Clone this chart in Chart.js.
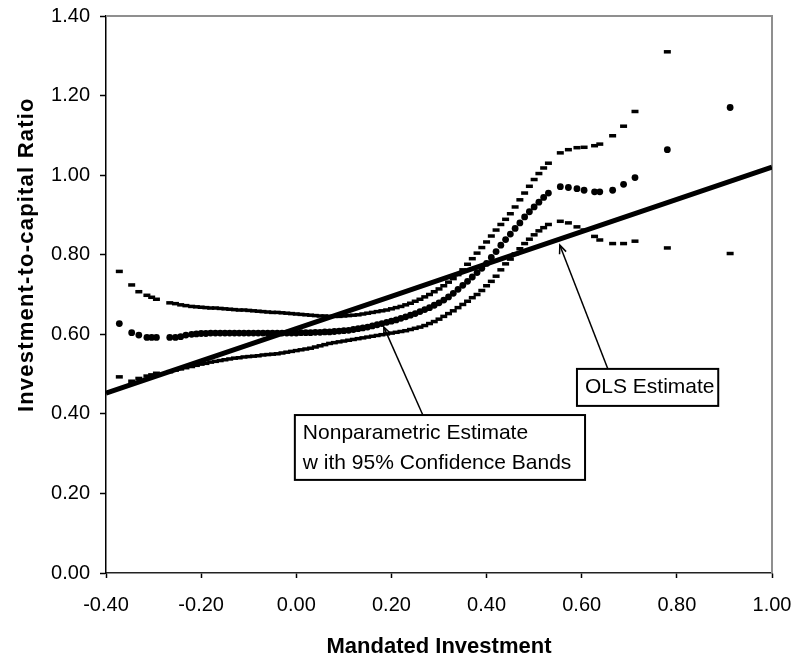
<!DOCTYPE html>
<html><head><meta charset="utf-8">
<script src="https://cdn.jsdelivr.net/npm/chart.js@4.4.1/dist/chart.umd.min.js"></script>
<style>html,body{margin:0;padding:0;background:#fff}#wrap{width:798px;height:660px}</style>
</head><body><div id="wrap"><canvas id="c" width="798" height="660"></canvas></div>
<script>
// ---- data ----
const xSample = [-0.372,-0.346,-0.331,-0.314,-0.304,-0.294,-0.266,-0.254,-0.243,-0.232,-0.220,
 -0.21,-0.20,-0.19,-0.18,-0.17,-0.16,-0.15,-0.14,-0.13,-0.12,-0.11,-0.10,-0.09,-0.08,-0.07,-0.06,-0.05,-0.04,-0.03,-0.02,-0.01,
 0.00,0.01,0.02,0.03,0.04,0.05,0.06,0.07,0.08,0.09,0.10,0.11,0.12,0.13,0.14,0.15,0.16,0.17,0.18,0.19,
 0.20,0.21,0.22,0.23,0.24,0.25,0.26,0.27,0.28,0.29,0.30,0.31,0.32,0.33,0.34,0.35,0.36,0.37,0.38,0.39,
 0.40,0.41,0.42,0.43,0.44,0.45,0.46,0.47,0.48,0.49,0.50,0.51,0.52,0.53,
 0.555,0.572,0.590,0.605,0.627,0.638,0.665,0.688,0.712,0.780,0.912];
const upperBand = [0.758,0.724,0.707,0.698,0.693,0.688,0.679,0.677,0.674,0.672,0.670,
 0.669,0.668,0.667,0.666,0.666,0.665,0.664,0.663,0.662,0.661,0.661,0.660,0.659,0.658,0.657,0.656,0.655,0.655,0.654,0.653,0.652,
 0.651,0.650,0.649,0.648,0.647,0.646,0.646,0.645,0.645,0.645,0.646,0.647,0.648,0.649,0.651,0.653,0.655,0.657,0.659,0.661,
 0.664,0.667,0.670,0.674,0.678,0.683,0.688,0.694,0.700,0.707,0.714,0.722,0.731,0.740,0.750,0.762,0.776,0.790,0.804,0.818,
 0.832,0.847,0.862,0.876,0.889,0.903,0.920,0.938,0.955,0.972,0.989,1.004,1.018,1.030,
 1.056,1.064,1.069,1.070,1.074,1.078,1.099,1.123,1.160,1.310,null];
const estimate = [0.627,0.604,0.598,0.592,0.592,0.592,0.592,0.592,0.594,0.598,0.600,
 0.601,0.602,0.602,0.603,0.603,0.603,0.603,0.603,0.603,0.603,0.603,0.603,0.603,0.603,0.603,0.603,0.603,0.603,0.603,0.603,0.603,
 0.603,0.604,0.604,0.604,0.605,0.605,0.606,0.606,0.607,0.608,0.609,0.610,0.612,0.614,0.616,0.618,0.621,0.624,0.627,0.630,
 0.633,0.636,0.640,0.644,0.648,0.652,0.657,0.662,0.667,0.673,0.679,0.686,0.694,0.703,0.713,0.723,0.733,0.744,0.755,0.766,
 0.778,0.793,0.808,0.824,0.838,0.852,0.866,0.880,0.895,0.908,0.920,0.932,0.944,0.955,
 0.971,0.969,0.966,0.962,0.958,0.958,0.962,0.977,0.994,1.064,1.170];
const lowerBand = [0.493,0.482,0.489,0.495,0.498,0.502,0.506,0.510,0.513,0.516,0.519,
 0.522,0.525,0.527,0.530,0.532,0.534,0.536,0.538,0.540,0.541,0.543,0.544,0.545,0.546,0.548,0.549,0.550,0.551,0.553,0.555,0.557,
 0.559,0.561,0.563,0.565,0.568,0.571,0.574,0.577,0.579,0.581,0.583,0.585,0.587,0.589,0.591,0.593,0.595,0.597,0.599,0.601,
 0.603,0.605,0.607,0.609,0.612,0.615,0.618,0.622,0.627,0.632,0.638,0.645,0.652,0.659,0.667,0.675,0.683,0.692,0.700,0.710,
 0.722,0.733,0.746,0.762,0.777,0.789,0.802,0.815,0.828,0.839,0.850,0.860,0.868,0.876,
 0.884,0.880,0.870,0.862,0.846,0.837,0.828,0.828,0.834,0.817,0.803];
const olsX = [-0.40,-0.20,0.00,0.20,0.40,0.60,0.80,1.00];
const olsY = [0.452,0.533,0.614,0.695,0.777,0.858,0.939,1.020];
const xTickValues = [-0.4,-0.2,0,0.2,0.4,0.6,0.8,1.0];
const xTickLabels = ['-0.40','-0.20','0.00','0.20','0.40','0.60','0.80','1.00'];
const yTickValues = [0,0.2,0.4,0.6,0.8,1.0,1.2,1.4];
const yTickLabels = ['0.00','0.20','0.40','0.60','0.80','1.00','1.20','1.40'];
const xTitle = 'Mandated Investment';
const yTitle = 'Investment-to-capital Ratio';
// annotation texts with anchors in data units
const notes = [
  {lines:['Nonparametric Estimate','w ith 95% Confidence Bands'], box:[-0.003,0.397,0.607,0.234], from:[0.266,0.397], tip:[0.184,0.618]},
  {lines:['OLS Estimate'], box:[0.590,0.513,0.887,0.420], from:[0.655,0.513], tip:[0.554,0.824]}
];
const yTitleCenter = 0.80;   // y-axis title is centred level with this value

const FONT = "'Liberation Sans', Arial, sans-serif";
Chart.defaults.font.family = FONT;
Chart.defaults.color = '#000';

const toPts = (xs, ys) => xs.map((x,i)=>({x, y: ys[i]})).filter(p => p.y !== null);

const decor = {
  id: 'decor',
  beforeDatasetsDraw(chart) {
    const {ctx, chartArea:a} = chart;
    ctx.save();
    ctx.strokeStyle = '#8f8f8f';
    ctx.lineWidth = 2;
    ctx.beginPath();
    ctx.moveTo(a.left, a.top); ctx.lineTo(a.right, a.top); ctx.lineTo(a.right, a.bottom);
    ctx.stroke();
    ctx.restore();
  },
  afterDraw(chart) {
    const {ctx} = chart;
    const xs = chart.scales.x, ys = chart.scales.y;
    const px = v => xs.getPixelForValue(v), py = v => ys.getPixelForValue(v);
    ctx.save();
    // y-axis title
    ctx.save();
    ctx.translate(27, py(yTitleCenter));
    ctx.rotate(-Math.PI/2);
    ctx.font = 'bold 22px ' + FONT;
    try { ctx.letterSpacing = '1.2px'; } catch(e) {}
    ctx.textAlign = 'center'; ctx.textBaseline = 'middle'; ctx.fillStyle = '#000';
    ctx.fillText(yTitle, 0, 0);
    ctx.restore();
    notes.forEach(n => {
      const l = px(n.box[0]), t = py(n.box[1]), r = px(n.box[2]), b = py(n.box[3]);
      ctx.fillStyle = '#fff';
      ctx.fillRect(l, t, r-l, b-t);
      ctx.strokeStyle = '#000'; ctx.lineWidth = 2;
      ctx.strokeRect(l, t, r-l, b-t);
      ctx.fillStyle = '#000';
      ctx.font = '21px ' + FONT;
      ctx.textBaseline = 'alphabetic'; ctx.textAlign = 'left';
      n.lines.forEach((s, i) => ctx.fillText(s, l + 8, t + 24 + i*30));
      const fx = px(n.from[0]), fy = py(n.from[1]), tx = px(n.tip[0]), ty = py(n.tip[1]);
      ctx.lineWidth = 1.5;
      ctx.beginPath(); ctx.moveTo(fx, fy); ctx.lineTo(tx, ty); ctx.stroke();
      const ang = Math.atan2(ty - fy, tx - fx), h = 9, w = 0.4;
      ctx.beginPath();
      ctx.moveTo(tx - h*Math.cos(ang - w), ty - h*Math.sin(ang - w));
      ctx.lineTo(tx, ty);
      ctx.lineTo(tx - h*Math.cos(ang + w), ty - h*Math.sin(ang + w));
      ctx.stroke();
    });
    ctx.restore();
  }
};

new Chart(document.getElementById('c'), {
  type: 'scatter',
  data: {
    datasets: [
      {label:'OLS Estimate', data: toPts(olsX, olsY), showLine:true, borderColor:'#000', borderWidth:5, pointRadius:0, fill:false},
      {label:'Upper band', data: toPts(xSample, upperBand), pointStyle:'line', pointRadius:3.5, pointBorderWidth:3.5, borderColor:'#000', backgroundColor:'#000'},
      {label:'Nonparametric Estimate', data: toPts(xSample, estimate), pointStyle:'circle', pointRadius:3.4, pointBorderWidth:0, borderColor:'#000', backgroundColor:'#000'},
      {label:'Lower band', data: toPts(xSample, lowerBand), pointStyle:'line', pointRadius:3.5, pointBorderWidth:3.5, borderColor:'#000', backgroundColor:'#000'}
    ]
  },
  options: {
    responsive:false, animation:false, devicePixelRatio:1,
    layout:{padding:{top:16, right:26, left:0, bottom:0}},
    plugins:{legend:{display:false}, tooltip:{enabled:false}},
    scales:{
      x:{type:'linear', min:-0.4, max:1.0,
         afterBuildTicks: s => { s.ticks = xTickValues.map(v => ({value:v})); },
         afterFit: s => { s.height = 87; s.paddingLeft = 0; s.paddingRight = 0; },
         ticks:{callback:(v,i)=>xTickLabels[i], font:{size:20}, color:'#000', padding:15, autoSkip:false, maxRotation:0},
         grid:{drawOnChartArea:false, drawTicks:true, tickLength:5, tickColor:'#000', tickWidth:1.5},
         border:{display:true, color:'#222', width:1.5},
         title:{display:true, text:xTitle, font:{size:22, weight:'bold'}, color:'#000', padding:{top:0,bottom:0}}},
      y:{type:'linear', min:0, max:1.4,
         afterBuildTicks: s => { s.ticks = yTickValues.map(v => ({value:v})); },
         afterFit: s => { s.width = 106; s.paddingTop = 0; s.paddingBottom = 0; },
         ticks:{callback:(v,i)=>yTickLabels[i], font:{size:20}, color:'#000', padding:10, autoSkip:false},
         grid:{drawOnChartArea:false, drawTicks:true, tickLength:6, tickColor:'#000', tickWidth:1.5},
         border:{display:true, color:'#000', width:1.5},
         title:{display:false}}
    }
  },
  plugins:[decor]
});
</script></body></html>
